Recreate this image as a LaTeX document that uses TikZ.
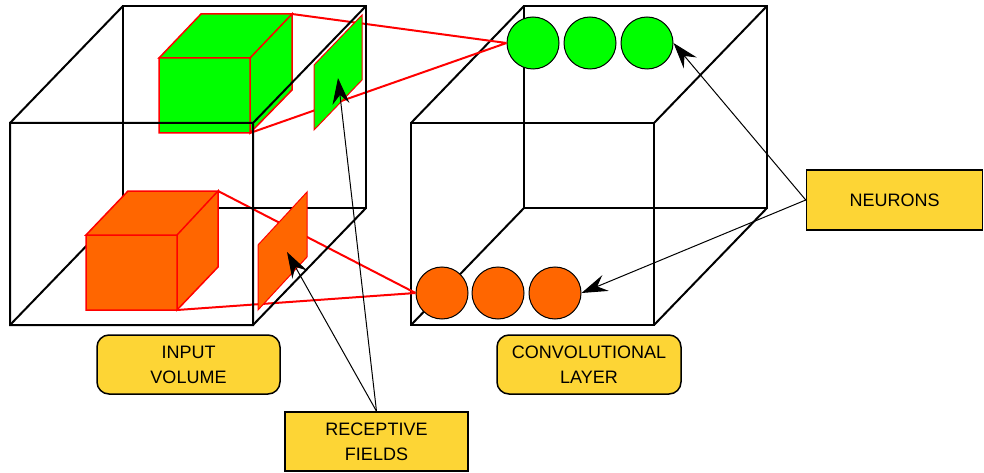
\documentclass[tikz,border=0pt]{standalone}
\usepackage{fontspec}
\setmainfont{Liberation Sans}
\usetikzlibrary{arrows.meta}
\definecolor{boxyellow}{HTML}{FDD535}
\definecolor{greenfield}{HTML}{00FF00}
\definecolor{orangefield}{HTML}{FF6600}

\begin{document}
\begin{tikzpicture}[x=1pt, y=-1pt,
    edge/.style={black, line width=2pt},
    redline/.style={red, line width=2pt},
    neuron/.style={circle, draw=black, line width=1pt, minimum size=52pt, inner sep=0pt},
    labelbox/.style={draw=black, line width=1.5pt, fill=boxyellow, align=center,
        font=\fontsize{18}{25}\selectfont, inner sep=0pt},
    pointer/.style={-{Stealth[length=26pt, width=17pt, inset=9pt]}, line width=1pt}]
    \useasboundingbox (0,0) rectangle (984,473);

    % convolutional layer
    \draw [edge] (411,123) rectangle (654,325) (524,6) rectangle (767,208);
    \draw [edge] (411,123) -- (524,6) (654,123) -- (767,6)
        (411,325) -- (524,208) (654,325) -- (767,208);
    \foreach \i/\x in {1/533, 2/590, 3/647}
        \node [neuron, fill=greenfield] (g\i) at (\x, 43){};
    \foreach \i/\x in {1/442, 2/498, 3/555}
        \node [neuron, fill=orangefield] (o\i) at (\x, 293){};

    % input volume
    \draw [redline] (292,14) -- (g1.west) (250,133) -- (g1.west);
    \draw [redline] (218,191) -- (o1.west) (177,310) -- (o1.west);
    \draw [edge] (123,6) rectangle (366,208);
    \draw [edge] (10,123) -- (123,6) (10,325) -- (123,208) (253,325) -- (366,208);

    \def\greenCube{(159,58) rectangle (250,133)
        (159,58) -- (201,14) -- (292,14) -- (250,58) -- cycle
        (250,58) -- (292,14) -- (292,90) -- (250,133) -- cycle}
    \def\orangeCube{(86,235) rectangle (177,310)
        (86,235) -- (128,191) -- (218,191) -- (177,235) -- cycle
        (177,235) -- (218,191) -- (218,267) -- (177,310) -- cycle}
    \draw [red, line width=1.5pt, fill=greenfield] \greenCube;
    \draw [red, line width=1.5pt, fill=orangefield] \orangeCube;
    \draw [red, line width=1pt, fill=greenfield] (314,65) -- (362,15) -- (362,80) -- (314,130) -- cycle;
    \draw [red, line width=1pt, fill=orangefield] (258,245) -- (307,192) -- (307,257) -- (258,310) -- cycle;
    \coordinate (greenfield) at (338,78);
    \coordinate (orangefield) at (287,252);

    \draw [edge] (10,123) rectangle (253,325) (253,123) -- (366,6);

    % labels
    \node [labelbox, rounded corners=12pt, minimum width=183pt, minimum height=59pt]
        (inputbox) at (188.5,364.5){INPUT\\VOLUME};
    \node [labelbox, rounded corners=12pt, minimum width=184pt, minimum height=59pt]
        (convbox) at (589,364.5){CONVOLUTIONAL\\LAYER};
    \node [labelbox, minimum width=183pt, minimum height=59pt]
        (fieldbox) at (376.5,441.5){RECEPTIVE\\FIELDS};
    \node [labelbox, minimum width=176pt, minimum height=60pt]
        (neuronbox) at (894.5,200){NEURONS};

    \draw [pointer] (neuronbox.west) -- (g3.east);
    \draw [pointer] (neuronbox.west) -- (o3.east);
    \draw [pointer] (fieldbox.north) -- (greenfield);
    \draw [pointer] (fieldbox.north) -- (orangefield);
\end{tikzpicture}
\end{document}
